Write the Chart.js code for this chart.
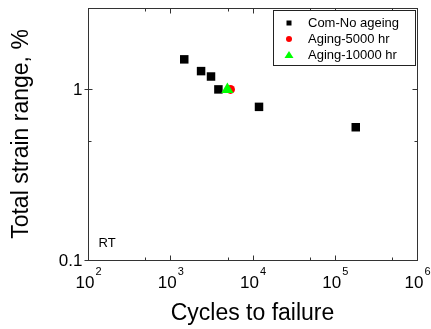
<!DOCTYPE html>
<html>
<head>
<meta charset="utf-8">
<script src="https://cdn.jsdelivr.net/npm/chart.js@4/dist/chart.umd.min.js"></script>
<style>
  html, body { margin: 0; padding: 0; background: #fff; }
</style>
</head>
<body>
<canvas id="strainChart" width="431" height="329"></canvas>
<script>
// Values
var seriesNames = ['Com-No ageing', 'Aging-5000 hr', 'Aging-10000 hr'];
var noAgeCycles = [1480, 2370, 3130, 3850, 12000, 180000];
var noAgeStrain = [1.5, 1.28, 1.19, 1.0, 0.79, 0.6];
var age5000Cycles = [5400];
var age5000Strain = [1.0];
var age10000Cycles = [4950];
var age10000Strain = [1.0];

// Axis ticks
var xTickExps = [2, 3, 4, 5, 6];
var xMinorTicks = [500, 5000, 50000, 500000];
var yTickValues = [0.1, 1];
var yTickLabels = ['0.1', '1'];
var yMinorTicks = [0.5];

var FONT = '"Liberation Sans", Arial, sans-serif';

function pairs(xs, ys) {
    return xs.map(function (x, i) { return { x: x, y: ys[i] }; });
}

// draws the frame, inward ticks, tick labels, legend box and the RT note
var frameAndLabels = {
    id: 'frameAndLabels',
    afterDraw: function (chart) {
        var ctx = chart.ctx;
        var area = chart.chartArea;
        var xs = chart.scales.x;
        var ys = chart.scales.y;
        var L = Math.round(area.left) + 0.5, R = Math.round(area.right) + 0.5;
        var T = Math.round(area.top) + 0.5, B = Math.round(area.bottom) + 0.5;

        ctx.save();
        ctx.strokeStyle = '#333';
        ctx.lineWidth = 1;
        ctx.strokeRect(L, T, R - L, B - T);

        ctx.beginPath();
        xTickExps.forEach(function (e) {
            var px = Math.round(xs.getPixelForValue(Math.pow(10, e))) + 0.5;
            ctx.moveTo(px, B); ctx.lineTo(px, B - 5);
            ctx.moveTo(px, T); ctx.lineTo(px, T + 5);
        });
        xMinorTicks.forEach(function (v) {
            var px = Math.round(xs.getPixelForValue(v)) + 0.5;
            ctx.moveTo(px, B); ctx.lineTo(px, B - 3);
            ctx.moveTo(px, T); ctx.lineTo(px, T + 3);
        });
        yTickValues.forEach(function (v) {
            var py = Math.round(ys.getPixelForValue(v)) + 0.5;
            ctx.moveTo(L - 4, py); ctx.lineTo(L + 4, py);
            ctx.moveTo(R, py); ctx.lineTo(R - 5, py);
        });
        yMinorTicks.forEach(function (v) {
            var py = Math.round(ys.getPixelForValue(v)) + 0.5;
            ctx.moveTo(L, py); ctx.lineTo(L + 3, py);
            ctx.moveTo(R, py); ctx.lineTo(R - 3, py);
        });
        ctx.stroke();

        // x tick labels 10^n
        ctx.fillStyle = '#000';
        ctx.textBaseline = 'alphabetic';
        ctx.textAlign = 'left';
        xTickExps.forEach(function (e) {
            var px = xs.getPixelForValue(Math.pow(10, e));
            ctx.font = '17px ' + FONT;
            var wBase = ctx.measureText('10').width;
            ctx.font = '11px ' + FONT;
            var wExp = ctx.measureText(String(e)).width;
            var x0 = px - (wBase + wExp) / 2;
            ctx.font = '17px ' + FONT;
            ctx.fillText('10', x0, B + 27);
            ctx.font = '11px ' + FONT;
            ctx.fillText(String(e), x0 + wBase + 1, B + 14);
        });

        // y tick labels
        ctx.font = '17px ' + FONT;
        ctx.textAlign = 'right';
        ctx.textBaseline = 'middle';
        yTickValues.forEach(function (v, i) {
            ctx.fillText(yTickLabels[i], L - 6, ys.getPixelForValue(v) + 1);
        });

        // RT note
        ctx.font = '13px ' + FONT;
        ctx.textAlign = 'left';
        ctx.fillText('RT', L + 10, B - 17);

        // legend box, top right inside the plot
        var lx = 273.5, ly = 10.5, lw = 142, lh = 55;
        ctx.fillStyle = '#fff';
        ctx.fillRect(lx, ly, lw, lh);
        ctx.strokeStyle = '#222';
        ctx.strokeRect(lx, ly, lw, lh);
        var rows = [23, 39, 55];
        var mx = 289;
        // square
        ctx.fillStyle = '#000';
        ctx.fillRect(mx - 2.5, rows[0] - 2.5, 5, 5);
        // circle
        ctx.fillStyle = '#ff0000';
        ctx.beginPath();
        ctx.arc(mx, rows[1], 3, 0, Math.PI * 2);
        ctx.fill();
        // triangle
        ctx.fillStyle = '#00ff00';
        ctx.beginPath();
        ctx.moveTo(mx, rows[2] - 4);
        ctx.lineTo(mx + 4.5, rows[2] + 3);
        ctx.lineTo(mx - 4.5, rows[2] + 3);
        ctx.closePath();
        ctx.fill();

        ctx.fillStyle = '#000';
        ctx.font = '13px ' + FONT;
        ctx.textBaseline = 'middle';
        seriesNames.forEach(function (name, i) {
            ctx.fillText(name, 308, rows[i]);
        });
        ctx.restore();
    }
};

var ctx = document.getElementById('strainChart').getContext('2d');
var strainChart = new Chart(ctx, {
    type: 'scatter',
    data: {
        datasets: [
            {
                label: seriesNames[0],
                data: pairs(noAgeCycles, noAgeStrain),
                pointStyle: 'rect',
                pointRadius: 6,
                backgroundColor: '#000',
                borderColor: '#000',
                borderWidth: 0,
                order: 2
            },
            {
                label: seriesNames[1],
                data: pairs(age5000Cycles, age5000Strain),
                pointStyle: 'circle',
                pointRadius: 4.5,
                backgroundColor: '#ff0000',
                borderColor: '#ff0000',
                borderWidth: 0,
                order: 1
            },
            {
                label: seriesNames[2],
                data: pairs(age10000Cycles, age10000Strain),
                pointStyle: 'triangle',
                pointRadius: 7,
                backgroundColor: '#00ff00',
                borderColor: '#00ff00',
                borderWidth: 0,
                order: 0
            }
        ]
    },
    options: {
        responsive: false,
        animation: false,
        devicePixelRatio: 1,
        layout: { padding: { left: 0, right: 14, top: 8, bottom: 1 } },
        plugins: {
            legend: { display: false },
            tooltip: { enabled: false }
        },
        scales: {
            x: {
                type: 'logarithmic',
                min: 100,
                max: 1000000,
                grid: { display: false },
                border: { display: false },
                ticks: { display: false },
                title: {
                    display: true,
                    text: 'Cycles to failure',
                    color: '#000',
                    font: { family: FONT, size: 23 },
                    padding: { top: 0, bottom: 1 }
                },
                afterFit: function (scale) { scale.height = 68; }
            },
            y: {
                type: 'logarithmic',
                min: 0.1,
                max: 3,
                grid: { display: false },
                border: { display: false },
                ticks: { display: false },
                title: {
                    display: true,
                    text: 'Total strain range, %',
                    color: '#000',
                    font: { family: FONT, size: 23 },
                    padding: { top: 8, bottom: 0 }
                },
                afterFit: function (scale) { scale.width = 88; }
            }
        }
    },
    plugins: [frameAndLabels]
});
</script>
</body>
</html>
